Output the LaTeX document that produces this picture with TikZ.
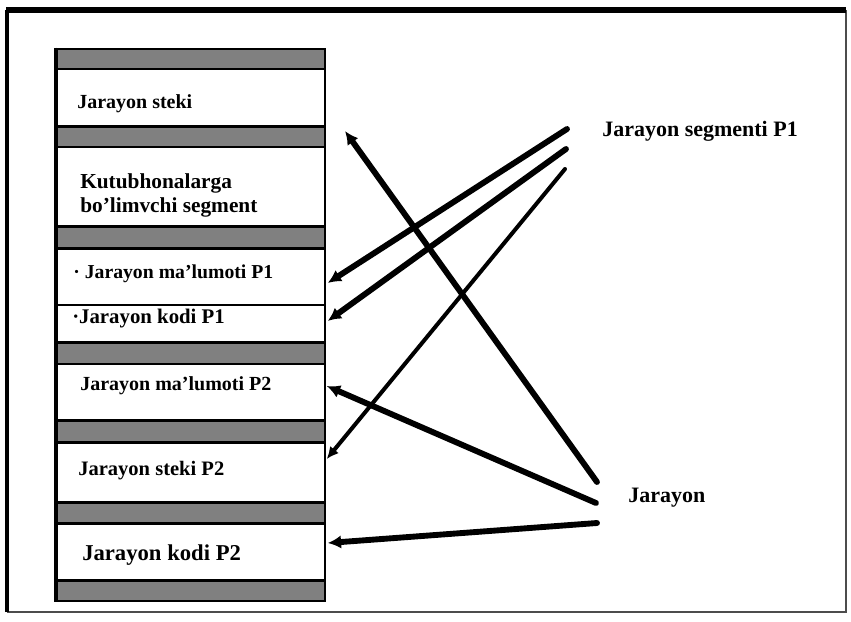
\documentclass[tikz,border=0pt]{standalone}
\usepackage{fontspec}
\setmainfont{Liberation Serif}
\usetikzlibrary{arrows.meta,calc,fit}
\begin{document}
\begin{tikzpicture}[x=0.75pt,y=-0.75pt,
  bar/.style={draw=black,line width=2pt,fill=black!50,inner sep=0pt},
  rowbox/.style={draw=black,line width=1.1pt,inner sep=0pt},
  lbl/.style={inner sep=0pt,anchor=base west,font=\bfseries},
  arr/.style={line width=4.4pt,line cap=round,-{Latex[length=10pt,width=10pt]}},
  arrthin/.style={line width=3pt,line cap=round,-{Latex[length=9pt,width=8.5pt]}}
]
\useasboundingbox (0,0) rectangle (851,622);
% outer frame
\draw[line width=1.3pt,black!70] (846,10) -- (846,612) -- (7,612);
\draw[line width=2.4pt] (7,612) -- (7,10);
\draw[line width=3.8pt] (6,10) -- (846,10);
% rows
\node[rowbox,fit={(57,69)(325,126)}] (r1) {};
\node[rowbox,fit={(57,147)(325,226)}] (r2) {};
\node[rowbox,fit={(57,249)(325,305)}] (r3) {};
\node[rowbox,fit={(57,305)(325,342)}] (r4) {};
\node[rowbox,fit={(57,364)(325,420)}] (r5) {};
\node[rowbox,fit={(57,443)(325,502)}] (r6) {};
\node[rowbox,fit={(57,524)(325,580)}] (r7) {};
% bars
\node[bar,fit={(57,49)(325,69)}] (b1) {};
\node[bar,fit={(57,127)(325,147)}] (b2) {};
\node[bar,fit={(57,227)(325,248)}] (b3) {};
\node[bar,fit={(57,343)(325,364)}] (b4) {};
\node[bar,fit={(57,421)(325,442)}] (b5) {};
\node[bar,fit={(57,503)(325,523)}] (b6) {};
\node[bar,fit={(57,581)(325,601)}] (b7) {};
\draw[line width=2.4pt] (b1.north west) -- (b7.south west);
% texts
\node[lbl,font=\fontsize{15}{17}\selectfont\bfseries] (t1) at (77,108) {Jarayon steki};
\node[lbl,font=\fontsize{16}{18}\selectfont\bfseries] (t2a) at (80,188) {Kutubhonalarga};
\node[lbl,font=\fontsize{16}{18}\selectfont\bfseries] (t2b) at (80,212) {bo'limvchi segment};
\node[lbl,font=\fontsize{14.8}{17}\selectfont\bfseries] (t3) at (73,278) {· Jarayon ma'lumoti P1};
\node[lbl,font=\fontsize{15.6}{17}\selectfont\bfseries] (t4) at (72,323) {·Jarayon kodi P1};
\node[lbl,font=\fontsize{15}{17}\selectfont\bfseries] (t5) at (80,390) {Jarayon ma'lumoti P2};
\node[lbl,font=\fontsize{15.4}{17}\selectfont\bfseries] (t6) at (78,475) {Jarayon steki P2};
\node[lbl,font=\fontsize{17}{19}\selectfont\bfseries] (t7) at (82,560) {Jarayon kodi P2};
\node[lbl,font=\fontsize{16.5}{19}\selectfont\bfseries] (seg) at (602,136) {Jarayon segmenti P1};
\node[lbl,font=\fontsize{16.5}{19}\selectfont\bfseries] (jar) at (628,502) {Jarayon};
% arrow ends
\coordinate (s1) at (567,129);
\coordinate (s2) at (566,149);
\coordinate (s3) at (565,169);
\coordinate (j1) at (597,482);
\coordinate (j2) at (596,503);
\coordinate (j3) at (597,523);
\coordinate (top) at (345,131);
\draw[arr] (s1) -- ($(r3.east)+(2,6)$);
\draw[arr] (s2) -- ($(r4.east)+(2,-2.5)$);
\draw[arrthin] (s3) -- ($(r6.east)+(1,-13.5)$);
\draw[arr] (j1) -- (top);
\draw[arr] (j2) -- ($(r5.east)+(1,-6)$);
\draw[arr] (j3) -- ($(r7.east)+(2,-9)$);
\end{tikzpicture}
\end{document}
